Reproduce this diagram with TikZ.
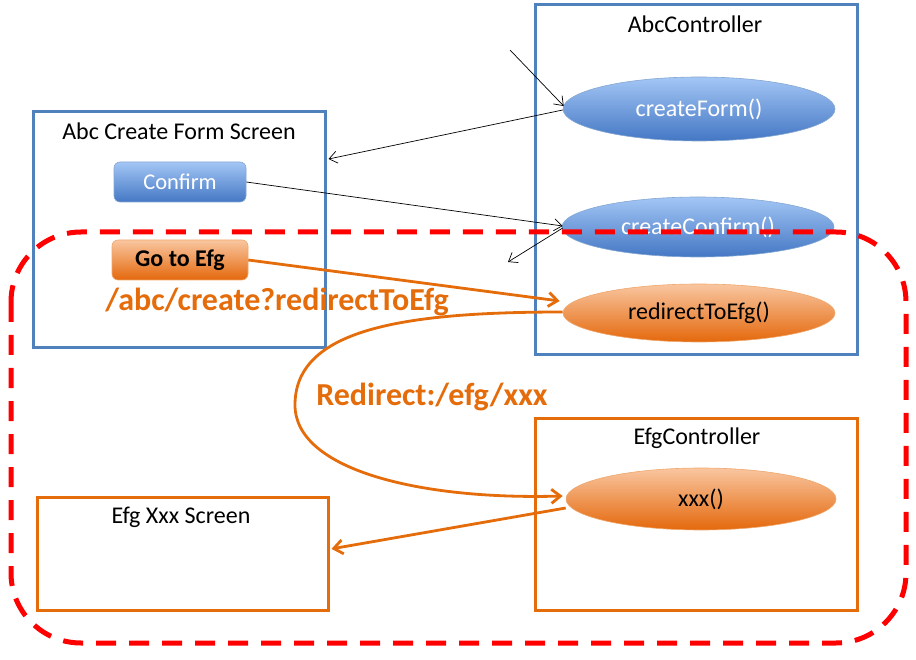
\documentclass[tikz,border=0pt]{standalone}
\usepackage{fontspec}
\setmainfont{Carlito}
\usetikzlibrary{arrows.meta,calc,shapes.geometric}
\definecolor{ofblue}{HTML}{4F81BD}
\definecolor{oforange}{HTML}{E46C0A}
\definecolor{btop}{HTML}{A3C6F5}
\definecolor{bbot}{HTML}{4477C4}
\definecolor{otop}{HTML}{F9C6A0}
\definecolor{obot}{HTML}{E4680C}
\definecolor{dashred}{HTML}{FF0000}
\begin{document}
\begin{tikzpicture}[x=1pt,y=-1pt,
  every node/.style={font=\fontsize{24}{28}\selectfont, inner sep=0pt},
  bluebox/.style={draw=ofblue, line width=3pt, rectangle},
  orangebox/.style={draw=oforange, line width=3pt, rectangle},
  blueell/.style={ellipse, draw=ofblue!70, line width=0.6pt, top color=btop, bottom color=bbot, text=white},
  orangeell/.style={ellipse, draw=oforange!60, line width=0.6pt, top color=otop, bottom color=obot, text=black},
  bluebtn/.style={rectangle, rounded corners=6pt, draw=ofblue!70, line width=0.6pt, top color=btop, bottom color=bbot, text=white, font=\fontsize{22.5}{26}\selectfont, minimum width=132pt, minimum height=40pt},
  orangebtn/.style={rectangle, rounded corners=6pt, draw=oforange!60, line width=0.6pt, top color=otop, bottom color=obot, text=black, font=\fontsize{24}{28}\selectfont\bfseries, minimum width=136pt, minimum height=40pt},
  thinarrow/.style={draw=black, line width=0.7pt, -{Straight Barb[length=8pt,width=12pt]}},
  orangearrow/.style={draw=oforange, line width=2.8pt, -{Straight Barb[length=9pt,width=14pt]}},
  biglabel/.style={text=oforange, font=\fontsize{32}{36}\selectfont\bfseries},
  condensed/.style={xscale=1.1},
  region/.style={draw=dashred, line width=5pt, dash pattern=on 20pt off 13pt, rounded corners=70pt}
]
\useasboundingbox (0,0) rectangle (916,660);

% containers
\node[bluebox, minimum width=322pt, minimum height=350pt] (abcctl) at (696,180) {};
\node (abcctltxt) at (695,24) {AbcController};
\node[bluebox, minimum width=292pt, minimum height=236pt] (abcscr) at (179,230) {};
\node (abcscrtxt) at (179,131) {Abc Create Form Screen};
\node[orangebox, minimum width=322pt, minimum height=192pt] (efgctl) at (696,514) {};
\node (efgctltxt) at (697,438) {EfgController};
\node[orangebox, minimum width=291pt, minimum height=113pt] (efgscr) at (182.5,553.5) {};
\node (efgscrtxt) at (181,517) {Efg Xxx Screen};

% methods
\node[blueell, minimum width=272pt, minimum height=64pt] (cf) at (699,109) {createForm()};
\node[blueell, minimum width=272pt, minimum height=60pt] (cc) at (698,227) {createConfirm()};
\node[orangeell, minimum width=272pt, minimum height=58pt] (rte) at (699,313) {redirectToEfg()};
\node[orangeell, minimum width=270pt, minimum height=62pt] (xxx) at (701,499) {xxx()};

% buttons
\node[bluebtn] (confirm) at (180,182) {Confirm};
\node[orangebtn] (goefg) at (180,260) {Go to Efg};

% labels
\node[biglabel] (url) at (277,302) {/abc/create?redirectToEfg};
\node[biglabel] (redir) at (432,397) {Redirect:/efg/xxx};

% black connectors
\coordinate (incoming) at (510,50);
\coordinate (outgoing) at (508,262);
\draw[thinarrow] (incoming) -- ($(cf.west)+(1,-3)$);
\draw[thinarrow] ($(cf.west)+(0,1)$) -- ($(abcscr.north east)!0.203!(abcscr.south east)+(2,0)$);
\draw[thinarrow] (confirm.east) -- ($(cc.west)+(1,-1)$);
\draw[thinarrow] ($(cc.west)+(1,1)$) -- (outgoing);

% orange connectors
\draw[orangearrow] (goefg.east) -- ($(rte.west)+(-3,-12)$);
\draw[orangearrow] ($(rte.west)+(0,-1)$) .. controls (400,312) and (295,330) .. (295,405) .. controls (295,470) and (420,500) .. ($(xxx.west)+(-3,-3)$);
\draw[orangearrow] ($(xxx.west)+(0,9)$) -- ($(efgscr.north east)!0.46!(efgscr.south east)+(2,0)$);

% dashed region
\draw[region] (11,232) rectangle (906,643);
\end{tikzpicture}
\end{document}
